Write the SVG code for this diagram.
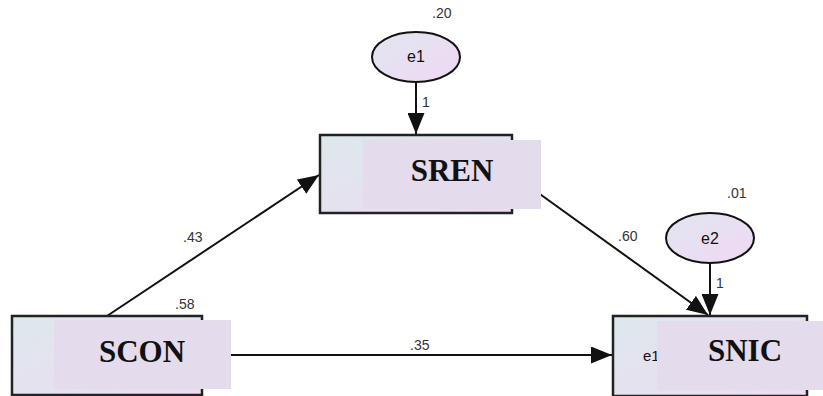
<svg xmlns="http://www.w3.org/2000/svg" width="823" height="396" viewBox="0 0 823 396">
<style>
.box{stroke:#222;stroke-width:2.5;fill:url(#gb)}
.ov{fill:#e4dcec;stroke:none}
.ell{stroke:#111;stroke-width:2;fill:url(#ge)}
.lbl{font-family:"Liberation Serif","Times New Roman",serif;font-weight:bold;font-size:31px;fill:#111;text-anchor:middle}
.en{font-family:"Liberation Sans",Arial,sans-serif;font-size:16px;fill:#111;text-anchor:middle}
.num{font-family:"Liberation Sans",Arial,sans-serif;font-size:14px;fill:#333}
.edge{stroke:#111;stroke-width:2;fill:none;marker-end:url(#ah)}
</style>
<defs>
<linearGradient id="gb" x1="0" y1="0" x2="1" y2="1">
<stop offset="0" stop-color="#dde8ec"/><stop offset="1" stop-color="#ecdcf2"/>
</linearGradient>
<linearGradient id="ge" x1="0" y1="0" x2="1" y2="1">
<stop offset="0" stop-color="#e2e6ef"/><stop offset="1" stop-color="#efd8f4"/>
</linearGradient>
<marker id="ah" markerUnits="userSpaceOnUse" markerWidth="21" markerHeight="17" refX="21" refY="8.5" orient="auto" viewBox="0 0 21 17">
<path d="M0,0 L21,8.5 L0,17 z" fill="#111"/>
</marker>
</defs>
<g id="connectors">
<line class="edge" x1="416" y1="82" x2="416" y2="134"/>
<line class="edge" x1="710" y1="263" x2="710" y2="315"/>
<line class="edge" x1="107" y1="316" x2="319" y2="175"/>
<line class="edge" x1="512" y1="174" x2="708" y2="315"/>
<line class="edge" x1="202" y1="355" x2="612" y2="355"/>
<text class="num" x="422" y="107">1</text>
<text class="num" x="716" y="288">1</text>
<text class="num" x="183" y="242">.43</text>
<text class="num" x="618" y="241">.60</text>
<text class="num" x="410" y="350">.35</text>
</g>
<g id="e1">
<ellipse class="ell" cx="416" cy="57" rx="44" ry="25"/>
<text class="en" x="416" y="62">e1</text>
<text class="num" x="432" y="18">.20</text>
</g>
<g id="e2">
<ellipse class="ell" cx="710" cy="238" rx="44" ry="25"/>
<text class="en" x="710" y="244">e2</text>
<text class="num" x="727" y="198">.01</text>
</g>
<g id="SREN">
<rect class="box" x="320" y="135" width="192" height="78"/>
<rect class="ov" x="363" y="140" width="178" height="69"/>
<text class="lbl" x="452" y="181">SREN</text>
</g>
<g id="SCON">
<rect class="box" x="12" y="316" width="190" height="79"/>
<rect class="ov" x="54" y="320" width="177" height="69"/>
<text class="lbl" x="142" y="362">SCON</text>
<text class="num" x="175" y="309">.58</text>
</g>
<g id="SNIC">
<rect class="box" x="613" y="316" width="194" height="80"/>
<text class="en" x="643" y="361" style="text-anchor:start;font-size:15px">e1</text>
<rect class="ov" x="657" y="321" width="166" height="69"/>
<text class="lbl" x="745" y="361">SNIC</text>
</g>
</svg>
